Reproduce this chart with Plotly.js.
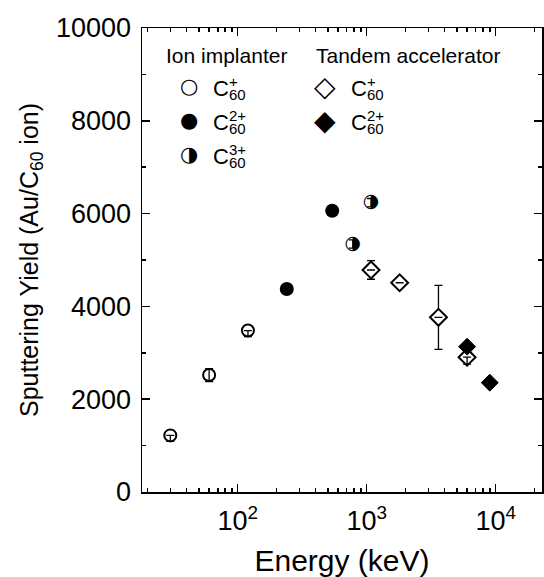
<!DOCTYPE html>
<html>
<head>
<meta charset="utf-8">
<script src="https://cdn.plot.ly/plotly-3.0.1.min.js"></script>
<style>html,body{margin:0;padding:0;background:#fff;}#chart{width:544px;height:577px;}</style>
</head>
<body>
<div id="chart"></div>
<script>
// ---- data ----
const energyIonPlus = [30, 60, 120];
const yieldIonPlus = [1220, 2520, 3480];
const errIonPlusUp = [0, 140, 0];
const errIonPlusDown = [130, 140, 130];

const energyIon2 = [240, 540];
const yieldIon2 = [4375, 6060];

const energyIon3 = [780, 1080];
const yieldIon3 = [5345, 6235];
const errIon3 = [90, 90];

const energyTanPlus = [1080, 1800, 3600, 6000];
const yieldTanPlus = [4785, 4510, 3765, 2905];
const errTanPlus = [200, null, 690, null];
const errTanPlusInnerUp = [null, null, null, 0];
const errTanPlusInnerDown = [null, null, null, 150];

const energyTan2 = [6000, 9000];
const yieldTan2 = [3132, 2356];

const xTickVals = [100, 1000, 10000];
const xTickText = ['10<sup>2</sup>', '10<sup>3</sup>', '10<sup>4</sup>'];
const xMinorVals = [20, 30, 40, 50, 60, 70, 80, 90, 200, 300, 400, 500, 600, 700, 800, 900,
                    2000, 3000, 4000, 5000, 6000, 7000, 8000, 9000, 20000];
const yTickVals = [0, 2000, 4000, 6000, 8000, 10000];
const yMinorVals = [1000, 3000, 5000, 7000, 9000];

const legendHeaders = ['Ion implanter', 'Tandem accelerator'];
const ionGlyphs = ['\u25CB', '\u25CF', '\u25D1'];
const ionCharges = ['+', '2+', '3+'];
const tanGlyphs = ['\u25C7', '\u25C6'];
const tanCharges = ['+', '2+'];

// ---- figure ----
const FONT = 'Liberation Sans, Arial, sans-serif';
const errStyle = {color: 'black', thickness: 1.3, width: 4};

const traces = [
  {x: energyIonPlus, y: yieldIonPlus, mode: 'markers', type: 'scatter', showlegend: false,
   marker: {symbol: 'circle-open', size: 12, color: 'black', line: {width: 2, color: 'black'}},
   error_y: Object.assign({type: 'data', symmetric: false, array: errIonPlusUp, arrayminus: errIonPlusDown}, errStyle)},
  {x: energyIon2, y: yieldIon2, mode: 'markers', type: 'scatter', showlegend: false,
   marker: {symbol: 'circle', size: 14, color: 'black', line: {width: 0}}},
  {x: energyIon3, y: yieldIon3, mode: 'text', type: 'scatter', showlegend: false,
   text: energyIon3.map(() => '\u25D1'), textposition: 'middle center',
   textfont: {family: 'DejaVu Sans', size: 19, color: 'black'},
   error_y: Object.assign({type: 'data', array: errIon3}, errStyle)},
  {x: energyTanPlus, y: yieldTanPlus, mode: 'markers', type: 'scatter', showlegend: false,
   marker: {symbol: 'diamond', size: 13, color: 'white', line: {width: 2, color: 'black'}},
   error_y: Object.assign({type: 'data', array: errTanPlus}, errStyle)},
  {x: energyTanPlus, y: yieldTanPlus, mode: 'markers', type: 'scatter', showlegend: false,
   marker: {symbol: 'diamond', size: 13, opacity: 0},
   error_y: Object.assign({type: 'data', symmetric: false, array: errTanPlusInnerUp, arrayminus: errTanPlusInnerDown}, errStyle)},
  {x: energyTan2, y: yieldTan2, mode: 'markers', type: 'scatter', showlegend: false,
   marker: {symbol: 'diamond', size: 13, color: 'black', line: {width: 1, color: 'black'}}}
];

// legend built from annotations (paper coordinates)
const L = 142, T = 28, W = 400, H = 464;
const px = v => (v - L) / W;
const py = v => (T + H - v) / H;
const annotations = [];
function addText(text, x, y, size, family, xanchor) {
  annotations.push({text: text, x: px(x), y: py(y), xref: 'paper', yref: 'paper',
    xanchor: xanchor || 'left', yanchor: 'middle', showarrow: false,
    font: {family: family || FONT, size: size, color: 'black'}});
}
addText(legendHeaders[0], 164, 55, 21);
addText(legendHeaders[1], 314, 55, 21);
const rowY = [86, 120, 154];
function addEntry(glyph, charge, row, gx, cx, gsize) {
  const y = rowY[row];
  addText(glyph, gx, y, gsize, 'DejaVu Sans', 'center');
  addText('C', cx, y + 2, 22);
  addText(charge, cx + 16, y - 5, 15);
  addText('60', cx + 16, y + 8, 15);
}
ionGlyphs.forEach((g, i) => addEntry(g, ionCharges[i], i, 189, 211, 21));
tanGlyphs.forEach((g, i) => addEntry(g, tanCharges[i], i, 325, 349, 28));

const layout = {
  width: 544, height: 577,
  margin: {l: L, r: 544 - L - W, t: T, b: 577 - T - H},
  paper_bgcolor: 'white', plot_bgcolor: 'white',
  font: {family: FONT, color: 'black'},
  showlegend: false,
  xaxis: {
    type: 'log', range: [Math.log10(18.1), Math.log10(22860)],
    showline: true, linecolor: 'black', linewidth: 1.5, mirror: 'ticks',
    showgrid: false, zeroline: false,
    ticks: 'inside', ticklen: 8, tickwidth: 1.5, tickcolor: 'black',
    tickvals: xTickVals, ticktext: xTickText,
    tickfont: {size: 27, family: FONT}, ticklabelstandoff: 4,
    minor: {tickvals: xMinorVals, ticks: 'inside', ticklen: 4, tickwidth: 1.5, tickcolor: 'black', showgrid: false},
    title: {text: 'Energy (keV)', font: {size: 30, family: FONT}, standoff: 16},
    automargin: false
  },
  yaxis: {
    range: [0, 10000],
    showline: true, linecolor: 'black', linewidth: 1.5, mirror: 'ticks',
    showgrid: false, zeroline: false,
    ticks: 'inside', ticklen: 8, tickwidth: 1.5, tickcolor: 'black',
    tickvals: yTickVals, tickformat: 'd',
    tickfont: {size: 27, family: FONT}, ticklabelstandoff: 4,
    minor: {tickvals: yMinorVals, ticks: 'inside', ticklen: 4, tickwidth: 1.5, tickcolor: 'black', showgrid: false},
    title: {text: 'Sputtering Yield (Au/C<sub>60</sub> ion)', font: {size: 25, family: FONT}, standoff: 10},
    automargin: false
  },
  annotations: annotations
};

Plotly.newPlot('chart', traces, layout, {displayModeBar: false, staticPlot: true});
</script>
</body>
</html>
